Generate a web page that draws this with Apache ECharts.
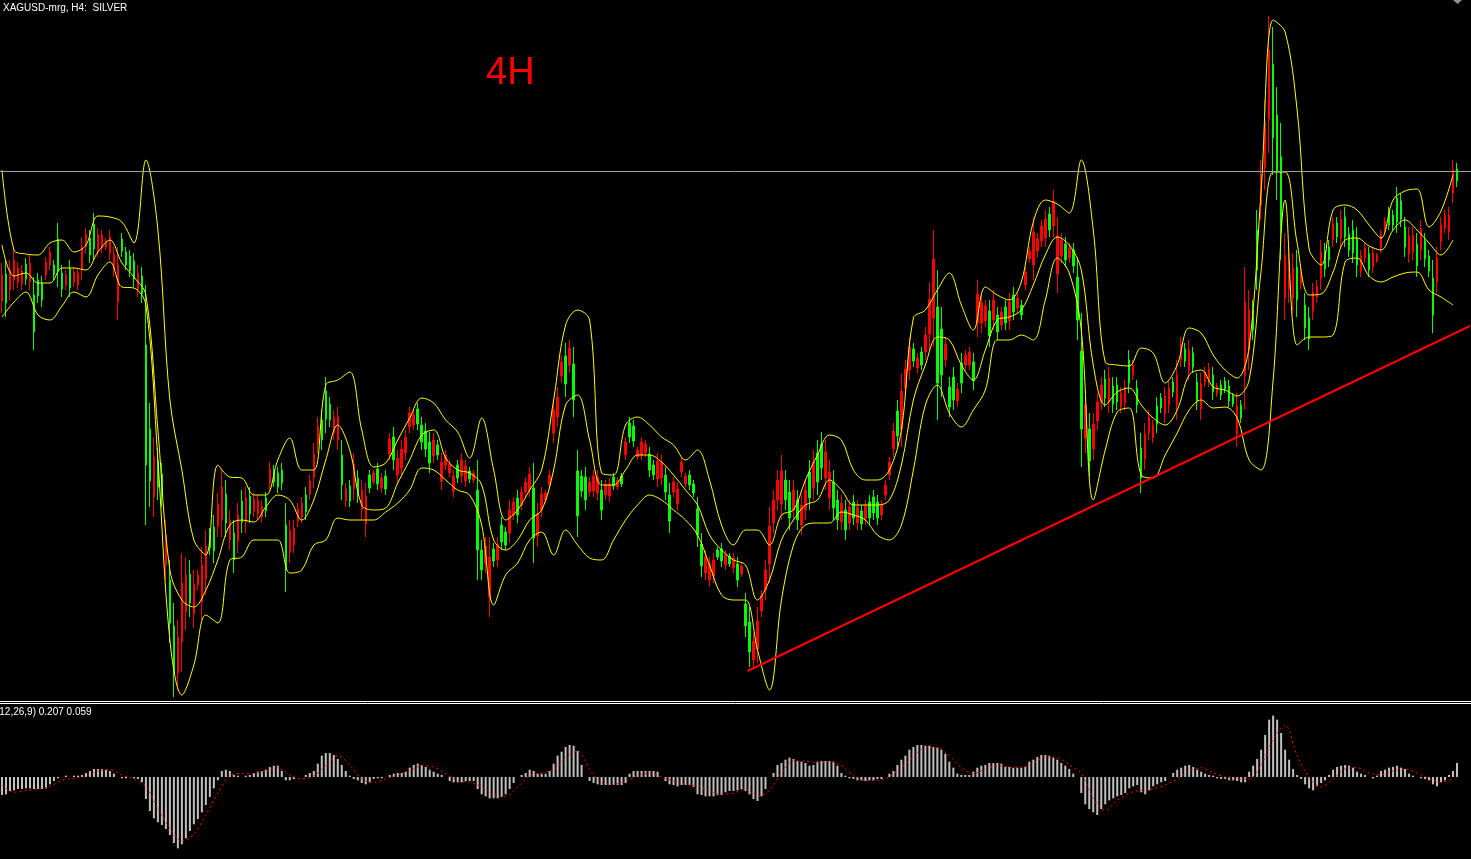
<!DOCTYPE html>
<html><head><meta charset="utf-8">
<style>html,body{margin:0;padding:0;background:#000;overflow:hidden}#c{width:1471px;height:859px}</style>
<script src="https://cdn.jsdelivr.net/npm/echarts/dist/echarts.min.js"></script>
</head><body><div id="c"></div><script>
// XAGUSD H4 bars (price)
const opens = [
27.25,26.97,27.30,27.40,27.32,27.29,27.21,27.37,26.68,27.04,
27.00,27.38,27.48,27.25,27.29,27.11,27.25,27.12,27.28,27.27,
27.53,27.66,27.45,27.51,27.65,27.65,27.59,27.63,27.46,27.35,
27.49,27.35,27.29,27.21,27.27,27.06,25.35,25.19,25.43,25.13,
25.04,24.65,23.77,23.26,23.63,24.17,24.25,23.97,24.16,24.25,
24.35,24.54,24.52,24.49,24.96,25.13,24.77,24.80,24.40,24.85,
24.78,25.02,24.86,25.01,24.99,24.94,24.89,25.31,25.18,25.13,
25.17,24.30,24.69,24.72,24.91,24.97,24.88,25.19,25.46,25.74,
25.60,25.81,25.80,25.83,25.83,25.15,25.11,24.99,25.36,25.05,
25.10,25.04,25.12,25.27,25.16,25.22,25.11,25.61,25.40,25.42,
25.51,25.63,25.87,25.85,25.76,25.58,25.51,25.37,25.60,25.45,
25.38,25.45,25.36,25.24,25.22,25.40,25.34,25.21,25.27,24.50,
24.30,24.54,24.43,24.39,24.56,24.58,24.55,24.90,24.98,24.85,
25.08,25.18,25.26,24.62,24.86,25.06,25.07,25.25,25.90,26.03,
26.38,26.16,26.52,26.00,24.84,25.09,25.00,25.18,25.24,25.23,
24.90,25.15,25.16,25.14,25.20,25.16,25.58,25.63,25.59,25.50,
25.58,25.56,25.30,25.25,25.39,25.38,25.08,24.79,25.18,25.11,
25.38,25.24,25.15,25.07,24.65,24.34,24.43,24.36,24.40,24.43,
24.39,24.45,24.36,24.42,24.20,24.34,23.74,23.48,23.59,23.79,
24.04,24.30,24.74,25.00,25.20,25.29,25.00,24.82,25.10,24.80,
24.95,25.10,25.02,25.38,25.18,25.32,25.48,25.28,24.92,24.80,
24.97,24.70,24.93,24.82,24.93,24.76,24.94,24.82,24.87,24.82,
24.95,25.15,25.38,25.69,25.64,26.09,26.31,26.53,26.39,26.42,
26.35,26.65,27.01,27.41,26.17,26.25,26.56,25.93,26.00,26.11,
26.17,26.45,26.48,26.19,27.06,26.97,26.94,26.64,27.00,26.68,
26.88,26.77,26.98,26.88,27.02,26.85,27.28,27.49,27.68,27.61,
27.74,27.81,27.70,27.99,27.64,27.60,27.40,27.52,27.34,26.80,
25.71,25.95,25.39,25.76,25.98,26.15,26.02,26.22,25.96,25.98,
26.07,26.13,26.17,26.35,25.95,25.22,25.66,25.83,25.75,25.76,
25.92,26.04,26.12,26.08,26.25,26.56,26.39,26.50,26.33,25.99,
26.16,26.28,26.31,26.08,26.14,26.05,26.11,25.99,25.96,25.94,
25.82,26.98,26.90,26.70,27.30,28.25,28.78,29.50,28.62,28.28,
27.74,27.45,27.39,27.32,27.00,27.27,26.72,26.61,27.08,27.14,
27.48,27.31,27.40,27.76,27.63,27.81,27.63,27.50,27.47,27.35,
27.44,27.52,27.30,27.47,27.45,27.65,27.79,27.75,27.75,27.78,
27.81,27.53,27.64,27.65,27.34,27.70,27.41,27.29,26.85,27.42,
27.75,27.85,27.85,28.30,28.19];
const closes = [
26.99,27.26,27.10,27.20,27.18,27.16,27.36,27.18,27.05,27.20,
27.17,27.25,27.35,27.35,27.61,27.27,27.15,27.31,27.18,27.15,
27.30,27.53,27.62,27.76,27.50,27.52,27.53,27.47,27.30,26.98,
27.61,27.48,27.44,27.39,27.11,27.24,26.55,25.71,25.03,25.39,
25.26,24.35,24.20,23.74,23.27,23.58,23.88,24.26,23.86,24.15,
23.98,24.21,24.65,24.73,24.74,24.80,25.06,24.60,24.67,24.59,
24.99,24.78,25.04,24.89,24.86,24.83,25.02,25.17,25.30,25.27,
25.30,24.75,24.48,24.55,24.79,24.83,25.05,25.06,25.23,25.56,
25.80,26.09,25.96,25.67,25.60,25.45,24.99,25.14,25.11,25.22,
24.90,24.76,25.25,25.18,25.31,25.12,25.24,25.46,25.63,25.25,
25.32,25.47,25.73,25.75,25.91,25.75,25.69,25.58,25.44,25.55,
25.19,25.35,25.27,25.09,25.35,25.24,25.19,25.29,25.20,25.10,
24.50,24.36,24.03,24.51,24.40,24.75,24.68,24.67,24.85,25.02,
24.95,25.08,25.10,25.12,24.64,24.90,25.00,25.15,25.67,25.83,
26.24,26.44,26.35,26.36,25.29,25.24,25.23,25.08,25.09,25.07,
25.10,25.05,25.04,25.23,25.13,25.24,25.45,25.77,25.74,25.43,
25.45,25.47,25.46,25.35,25.21,25.22,25.25,25.05,25.08,24.96,
25.28,25.16,25.25,25.16,24.91,24.56,24.27,24.20,24.24,24.50,
24.51,24.35,24.44,24.32,24.36,24.26,23.96,23.78,23.40,23.51,
23.89,24.10,24.36,24.77,25.00,24.96,25.20,25.08,24.90,25.00,
24.75,24.90,25.28,25.12,25.47,25.56,25.22,25.02,25.18,25.00,
24.78,24.90,24.77,24.98,24.77,24.89,24.81,24.98,25.03,24.98,
24.85,25.05,25.25,25.51,25.89,25.71,26.12,26.30,26.51,26.32,
26.48,26.48,26.66,26.82,26.93,26.71,26.40,26.13,26.23,25.99,
26.37,26.35,26.35,26.38,26.77,26.77,26.79,26.89,26.80,26.85,
26.75,26.93,26.79,27.05,26.92,26.95,27.15,27.41,27.35,27.49,
27.59,27.62,27.86,27.74,27.26,27.44,27.56,27.42,27.50,27.23,
26.49,25.62,25.71,25.51,25.79,25.98,26.21,25.98,26.14,26.15,
25.93,25.97,26.40,26.25,26.12,25.52,25.41,25.67,25.62,25.94,
26.02,25.86,25.95,26.18,25.95,26.40,26.51,26.30,26.47,26.18,
25.91,26.18,26.19,26.25,26.06,26.15,26.19,26.14,26.04,25.66,
25.95,26.25,26.50,26.90,27.70,27.95,28.32,28.81,29.36,28.85,
28.43,27.02,27.11,27.02,27.33,27.16,26.95,26.82,26.89,27.03,
27.22,27.49,27.53,27.60,27.77,27.62,27.83,27.66,27.70,27.61,
27.29,27.42,27.46,27.33,27.39,27.52,27.71,27.88,27.85,28.02,
27.99,27.73,27.46,27.48,27.56,27.50,27.59,27.44,27.22,27.18,
27.58,27.72,27.68,28.07,28.31];
const highs = [
27.37,27.40,27.40,27.50,27.38,27.35,27.42,27.45,27.23,27.27,
27.24,27.43,27.53,27.40,27.77,27.35,27.30,27.40,27.33,27.32,
27.63,27.72,27.70,27.87,27.72,27.70,27.62,27.70,27.53,27.53,
27.67,27.53,27.50,27.47,27.35,27.33,27.15,25.97,25.63,25.52,
25.37,24.80,24.40,23.97,23.80,24.47,24.43,24.40,24.30,24.30,
24.53,24.70,24.72,24.85,25.07,25.30,25.20,24.90,24.80,24.97,
25.10,25.13,25.13,25.07,25.05,25.00,25.08,25.38,25.35,25.33,
25.37,24.97,24.80,24.80,24.97,25.03,25.13,25.25,25.57,25.83,
25.90,26.23,26.03,25.90,25.93,25.60,25.17,25.20,25.47,25.30,
25.20,25.17,25.30,25.30,25.37,25.27,25.30,25.67,25.73,25.50,
25.60,25.70,25.93,25.90,25.97,25.83,25.77,25.68,25.67,25.60,
25.47,25.50,25.40,25.30,25.40,25.47,25.40,25.33,25.30,25.40,
24.60,24.63,24.63,24.57,24.63,24.83,24.73,25.00,25.03,25.10,
25.13,25.23,25.33,25.37,24.97,25.13,25.10,25.30,26.00,26.13,
26.45,26.57,26.60,26.53,25.50,25.30,25.33,25.23,25.30,25.30,
25.20,25.20,25.22,25.27,25.23,25.27,25.63,25.83,25.80,25.53,
25.63,25.60,25.53,25.40,25.47,25.45,25.33,25.17,25.23,25.17,
25.43,25.27,25.30,25.20,25.03,24.67,24.50,24.43,24.47,24.53,
24.57,24.50,24.47,24.47,24.43,24.37,24.07,23.93,23.67,23.93,
24.10,24.40,24.93,25.10,25.30,25.45,25.30,25.20,25.20,25.10,
25.05,25.20,25.40,25.50,25.60,25.68,25.60,25.40,25.30,25.10,
25.05,25.00,25.00,25.05,25.00,24.95,25.00,25.05,25.10,25.05,
25.00,25.20,25.43,25.77,26.00,26.27,26.40,26.63,26.57,26.47,
26.53,26.73,27.17,27.70,27.30,26.93,26.63,26.23,26.33,26.17,
26.47,26.50,26.53,26.47,27.20,27.07,27.00,27.00,27.10,26.93,
26.93,27.00,27.07,27.13,27.07,27.00,27.33,27.53,27.83,27.67,
27.80,27.90,27.93,28.10,27.83,27.67,27.63,27.57,27.57,27.43,
26.87,26.10,25.87,25.87,26.07,26.23,26.30,26.33,26.23,26.23,
26.13,26.20,26.50,26.40,26.20,25.67,25.77,25.90,25.80,26.03,
26.07,26.13,26.20,26.23,26.40,26.63,26.57,26.60,26.53,26.27,
26.27,26.33,26.37,26.33,26.17,26.20,26.23,26.20,26.07,26.07,
26.00,27.33,27.10,27.00,27.90,28.40,29.00,29.84,29.73,29.13,
28.77,27.67,27.53,27.47,27.50,27.33,27.07,26.93,27.17,27.20,
27.60,27.57,27.60,27.83,27.83,27.90,27.93,27.73,27.80,27.73,
27.50,27.57,27.53,27.53,27.47,27.70,27.83,27.93,27.90,28.13,
28.07,27.83,27.73,27.73,27.67,27.80,27.67,27.50,27.40,27.53,
27.83,27.90,27.93,28.40,28.37];
const lows = [
26.87,26.83,27.00,27.10,27.12,27.10,27.15,27.10,26.50,26.97,
26.93,27.20,27.30,27.20,27.13,27.03,27.10,27.03,27.13,27.10,
27.20,27.47,27.37,27.40,27.43,27.47,27.50,27.40,27.23,26.80,
27.43,27.30,27.23,27.13,27.03,26.97,24.75,24.93,24.83,25.00,
24.93,24.20,23.57,23.03,23.10,23.28,23.70,23.83,23.72,24.10,
23.80,24.05,24.45,24.37,24.63,24.63,24.63,24.50,24.27,24.47,
24.67,24.67,24.77,24.83,24.80,24.77,24.83,25.10,25.13,25.07,
25.10,24.08,24.37,24.47,24.73,24.77,24.80,25.00,25.12,25.47,
25.50,25.67,25.73,25.60,25.50,25.00,24.93,24.93,25.00,24.97,
24.80,24.63,25.07,25.15,25.10,25.07,25.05,25.40,25.30,25.17,
25.23,25.40,25.67,25.70,25.70,25.50,25.43,25.27,25.37,25.40,
25.10,25.30,25.23,25.03,25.17,25.17,25.13,25.17,25.17,24.20,
24.20,24.27,23.83,24.33,24.33,24.50,24.50,24.57,24.80,24.77,
24.90,25.03,25.03,24.37,24.53,24.83,24.97,25.10,25.57,25.73,
26.17,26.03,26.27,25.83,24.63,25.03,24.90,25.03,25.03,25.00,
24.80,25.00,24.98,25.10,25.10,25.13,25.40,25.57,25.53,25.40,
25.40,25.43,25.23,25.20,25.13,25.15,25.00,24.67,25.03,24.90,
25.23,25.13,25.10,25.03,24.53,24.23,24.20,24.13,24.17,24.40,
24.33,24.30,24.33,24.27,24.13,24.23,23.63,23.33,23.32,23.37,
23.83,24.00,24.17,24.67,24.90,24.80,24.90,24.70,24.80,24.70,
24.65,24.80,24.90,25.00,25.05,25.20,25.10,24.90,24.80,24.70,
24.70,24.60,24.70,24.75,24.70,24.70,24.75,24.75,24.80,24.75,
24.80,25.00,25.20,25.43,25.53,25.53,26.03,26.20,26.33,26.27,
26.30,26.40,26.50,26.53,25.80,26.03,26.33,25.83,25.90,25.93,
26.07,26.30,26.30,26.10,26.63,26.67,26.73,26.53,26.70,26.60,
26.70,26.70,26.70,26.80,26.87,26.80,27.10,27.37,27.20,27.43,
27.53,27.53,27.63,27.63,27.07,27.37,27.33,27.37,27.27,26.60,
25.33,25.47,25.23,25.40,25.70,25.90,25.93,25.87,25.87,25.90,
25.87,25.90,26.07,26.20,25.87,25.07,25.30,25.60,25.57,25.67,
25.87,25.77,25.87,26.03,25.80,26.33,26.33,26.20,26.27,25.90,
25.80,26.13,26.13,26.00,26.03,26.00,26.07,25.93,25.93,25.53,
25.77,25.90,26.30,26.60,27.10,27.80,28.10,28.47,28.25,28.00,
27.40,26.80,26.97,26.87,26.83,27.10,26.60,26.50,26.80,26.97,
27.10,27.23,27.33,27.53,27.57,27.53,27.53,27.43,27.37,27.23,
27.23,27.37,27.23,27.27,27.37,27.47,27.67,27.70,27.70,27.67,
27.73,27.43,27.37,27.40,27.23,27.40,27.33,27.23,26.67,27.07,
27.50,27.67,27.60,27.97,28.13];
// Bands (yellow), one reading every BAND_STEP bars
const BAND_STEP = 3;
const bandUpper = [
28.30,27.50,27.46,27.45,27.57,27.60,27.48,27.55,27.84,27.83,
27.78,27.57,28.40,27.70,26.00,25.30,24.60,24.45,25.35,25.23,
25.22,25.05,25.05,25.40,25.62,25.30,25.30,26.15,26.20,26.28,
25.70,25.33,25.37,25.60,25.82,26.02,25.97,25.80,25.68,25.42,
25.82,25.30,24.80,24.90,25.10,25.30,26.00,26.75,26.90,26.80,
25.27,25.25,25.75,25.83,25.75,25.63,25.55,25.40,25.50,25.20,
24.75,24.55,24.70,24.70,24.55,24.85,24.90,25.20,25.45,25.65,
25.60,25.30,25.20,25.20,25.30,25.70,26.82,26.90,27.10,27.27,
26.95,26.70,27.13,27.05,27.00,27.18,27.78,28.00,27.96,27.87,
28.40,27.70,26.38,26.35,26.34,26.52,26.47,26.17,26.35,26.72,
26.67,26.45,26.30,26.22,26.53,28.10,29.80,29.68,28.90,27.51,
27.35,27.90,27.95,27.90,27.75,27.62,28.00,28.09,28.11,27.73,
27.89,28.25];
const bandMiddle = [
27.55,27.24,27.27,27.17,27.17,27.32,27.32,27.30,27.48,27.60,
27.37,27.23,27.05,25.70,24.30,24.00,23.93,24.10,24.40,24.75,
24.80,24.78,24.93,25.05,25.00,24.80,25.00,25.40,25.75,25.50,
24.95,24.90,24.92,25.17,25.40,25.65,25.70,25.42,25.30,25.27,
25.15,24.60,24.50,24.60,24.80,24.90,25.30,25.95,26.05,25.60,
25.15,25.15,25.30,25.45,25.45,25.38,25.25,25.10,24.95,24.65,
24.50,24.40,24.35,24.00,24.20,24.60,24.80,24.95,25.00,25.20,
25.10,24.95,24.95,24.95,25.00,25.35,26.00,26.35,26.63,26.60,
26.35,26.20,26.50,26.80,26.83,26.90,27.15,27.45,27.63,27.55,
27.30,26.35,25.95,26.08,26.12,25.95,25.82,25.75,25.90,26.25,
26.30,26.13,26.10,26.04,26.20,27.30,28.28,28.28,27.57,27.05,
27.06,27.28,27.60,27.62,27.54,27.50,27.70,27.80,27.70,27.57,
27.45,27.60];
const bandLower = [
26.83,26.98,27.08,26.85,26.80,26.94,27.08,27.03,27.25,27.38,
27.13,27.12,26.95,25.40,23.60,23.05,23.35,23.85,23.77,24.40,
24.43,24.60,24.60,24.60,24.27,24.30,24.55,24.60,24.82,24.80,
24.80,24.80,24.88,24.97,25.10,25.32,25.30,25.20,25.10,25.05,
24.75,23.95,24.25,24.37,24.60,24.68,24.45,24.70,24.55,24.42,
24.40,24.60,24.80,24.95,25.05,25.00,24.90,24.80,24.65,24.35,
24.05,24.00,24.00,23.50,23.10,24.00,24.55,24.75,24.77,24.77,
24.88,24.85,24.80,24.65,24.60,24.75,25.30,25.95,26.15,25.87,
25.73,25.90,26.10,26.60,26.60,26.65,26.60,27.00,27.42,27.27,
26.70,25.00,25.50,25.88,25.92,25.25,25.22,25.45,25.67,25.90,
26.00,25.92,25.93,25.82,25.40,25.30,26.20,28.00,26.55,26.63,
26.63,26.65,27.38,27.42,27.24,27.18,27.23,27.27,27.28,27.10,
27.03,26.95];
// MACD(12,26,9) main (histogram) per bar, and signal every SIGNAL_STEP bars
const macdMain = [
-0.27,-0.26,-0.21,-0.20,-0.18,-0.18,-0.17,-0.17,-0.18,-0.18,
-0.18,-0.17,-0.11,-0.06,-0.02,0.00,0.02,0.00,0.02,0.02,
0.03,0.06,0.09,0.12,0.12,0.12,0.11,0.09,0.05,0.00,
-0.02,-0.02,0.00,-0.02,-0.03,-0.08,-0.33,-0.51,-0.62,-0.68,
-0.72,-0.78,-0.87,-0.99,-1.07,-1.01,-0.92,-0.81,-0.71,-0.63,
-0.53,-0.42,-0.30,-0.17,-0.05,0.09,0.11,0.09,0.03,0.02,
0.00,0.02,0.03,0.06,0.08,0.09,0.11,0.15,0.17,0.17,
0.09,-0.05,-0.05,-0.03,0.00,0.00,0.03,0.06,0.09,0.20,
0.32,0.36,0.36,0.33,0.27,0.18,0.09,0.02,-0.03,-0.05,
-0.09,-0.11,-0.08,-0.03,-0.02,-0.02,0.00,0.03,0.05,0.06,
0.06,0.08,0.14,0.18,0.20,0.18,0.15,0.11,0.08,0.05,
0.03,0.00,-0.06,-0.08,-0.08,-0.08,-0.06,-0.06,-0.06,-0.18,
-0.26,-0.29,-0.32,-0.32,-0.32,-0.30,-0.26,-0.18,-0.09,0.00,
0.03,0.06,0.11,0.09,0.05,0.05,0.05,0.09,0.20,0.32,
0.38,0.45,0.48,0.47,0.39,0.18,0.00,-0.06,-0.09,-0.11,
-0.12,-0.12,-0.12,-0.12,-0.12,-0.12,-0.09,0.05,0.09,0.09,
0.09,0.09,0.09,0.09,0.08,0.00,-0.06,-0.11,-0.12,-0.14,
-0.12,-0.12,-0.12,-0.15,-0.26,-0.27,-0.29,-0.29,-0.29,-0.27,
-0.27,-0.23,-0.21,-0.21,-0.20,-0.18,-0.21,-0.26,-0.33,-0.36,
-0.29,-0.18,0.00,0.06,0.18,0.21,0.26,0.29,0.27,0.24,
0.23,0.21,0.17,0.18,0.23,0.24,0.24,0.24,0.23,0.17,
0.06,0.02,-0.02,-0.03,-0.05,-0.05,-0.06,-0.05,-0.05,-0.03,
-0.03,0.00,0.05,0.09,0.18,0.26,0.32,0.41,0.45,0.48,
0.48,0.47,0.47,0.45,0.44,0.41,0.35,0.23,0.14,0.05,
0.03,0.03,0.03,0.08,0.14,0.17,0.18,0.21,0.21,0.21,
0.20,0.15,0.15,0.14,0.14,0.14,0.15,0.23,0.26,0.30,
0.33,0.33,0.32,0.29,0.26,0.21,0.17,0.12,0.05,0.00,
-0.24,-0.41,-0.48,-0.53,-0.57,-0.48,-0.41,-0.35,-0.32,-0.29,
-0.27,-0.24,-0.17,-0.14,-0.12,-0.23,-0.26,-0.20,-0.14,-0.11,
-0.08,-0.06,0.00,0.06,0.11,0.14,0.17,0.18,0.15,0.11,
0.08,0.05,0.03,0.02,-0.02,-0.03,-0.03,-0.05,-0.05,-0.06,
-0.08,-0.08,0.08,0.17,0.27,0.41,0.63,0.86,0.92,0.86,
0.66,0.41,0.26,0.12,0.03,-0.03,-0.11,-0.17,-0.20,-0.14,
-0.09,-0.05,0.03,0.11,0.15,0.17,0.18,0.17,0.14,0.08,
0.05,0.03,0.00,-0.02,0.02,0.09,0.11,0.14,0.15,0.17,
0.14,0.12,0.05,0.02,0.00,-0.02,-0.03,-0.05,-0.11,-0.14,
-0.08,-0.05,0.03,0.09,0.21];
const SIGNAL_STEP = 3;
const macdSignal = [
-0.12,-0.23,-0.20,-0.18,-0.14,-0.05,-0.02,0.02,0.09,0.11,
0.03,-0.03,-0.14,-0.47,-0.77,-0.96,-0.86,-0.57,-0.24,0.02,
0.05,0.05,0.09,0.14,0.03,-0.03,0.02,0.17,0.32,0.18,
-0.03,-0.08,-0.03,0.03,0.09,0.17,0.15,0.05,-0.05,-0.08,
-0.14,-0.27,-0.29,-0.15,0.02,0.06,0.11,0.29,0.39,0.11,
-0.09,-0.11,-0.06,0.02,0.06,0.00,-0.06,-0.11,-0.14,-0.21,
-0.26,-0.24,-0.18,-0.29,-0.20,0.06,0.24,0.24,0.21,0.23,
0.17,0.02,-0.05,-0.05,0.00,0.14,0.30,0.44,0.44,0.32,
0.14,0.05,0.12,0.17,0.15,0.15,0.21,0.30,0.29,0.18,
0.05,-0.32,-0.50,-0.35,-0.24,-0.20,-0.18,-0.12,-0.03,0.09,
0.14,0.06,0.00,-0.03,-0.03,0.18,0.57,0.78,0.32,0.00,
-0.15,-0.03,0.12,0.14,0.06,0.03,0.09,0.12,0.06,-0.02,
-0.08,-0.02];
const levelPrice = 28.29;            // horizontal line
const trendFrom = [186.5, 23.29];    // trend line anchors: [bar, price]
const trendTo = [367.25, 26.74];
const SLOTS = 368;                    // bar slots on the time axis (last ones empty)
const titleText = 'XAGUSD-mrg, H4:  SILVER';
const tagText = '4H';
const macdText = 'MACD(12,26,9) 0.207 0.059';

const categories = Array.from({length: SLOTS}, (_, i) => String(i));
const candles = opens.map((o, i) => [o, closes[i], lows[i], highs[i]]);
const stepped = (arr, step) => arr.map((v, k) => [k * step, v]);
const bandSeries = arr => ({
  type: 'line', xAxisIndex: 1, yAxisIndex: 0, data: stepped(arr, BAND_STEP),
  smooth: 0.35, symbol: 'none', silent: true,
  lineStyle: {color: '#ffff00', width: 1}
});
const smallFont = '10px "Liberation Sans", Arial, sans-serif';

const chart = echarts.init(document.getElementById('c'), null, {renderer: 'canvas'});
chart.setOption({
  backgroundColor: '#000000',
  animation: false,
  grid: [
    {left: 0, top: 0, width: 1472, height: 700},
    {left: 0, top: 704, width: 1472, height: 155}
  ],
  xAxis: [
    {type: 'category', gridIndex: 0, data: categories, show: false},
    {type: 'value', gridIndex: 0, min: -0.5, max: SLOTS - 0.5, show: false},
    {type: 'category', gridIndex: 1, data: categories, show: false},
    {type: 'value', gridIndex: 1, min: -0.5, max: SLOTS - 0.5, show: false}
  ],
  yAxis: [
    {type: 'value', gridIndex: 0, min: 23, max: 30, show: false, splitLine: {show: false}},
    {type: 'value', gridIndex: 1, min: -1.23, max: 1.095, show: false, splitLine: {show: false}}
  ],
  series: [
    {
      type: 'candlestick', xAxisIndex: 0, yAxisIndex: 0, data: candles,
      barWidth: 2,
      itemStyle: {color: '#00ff00', color0: '#ff0000', borderColor: '#00ff00', borderColor0: '#ff0000', borderWidth: 1},
      markLine: {
        silent: true, symbol: 'none', label: {show: false},
        lineStyle: {color: '#a0a0a0', width: 1, type: 'solid'},
        data: [{yAxis: levelPrice}]
      }
    },
    bandSeries(bandUpper),
    bandSeries(bandMiddle),
    bandSeries(bandLower),
    {
      type: 'line', xAxisIndex: 1, yAxisIndex: 0, data: [trendFrom, trendTo],
      symbol: 'none', silent: true, lineStyle: {color: '#ff0000', width: 2}
    },
    {
      type: 'bar', xAxisIndex: 2, yAxisIndex: 1, data: macdMain, barWidth: 2,
      silent: true, itemStyle: {color: '#c0c0c0'}
    },
    {
      type: 'line', xAxisIndex: 3, yAxisIndex: 1, data: stepped(macdSignal, SIGNAL_STEP),
      smooth: 0.3, symbol: 'none', silent: true,
      lineStyle: {color: '#ff0000', width: 1, type: [2, 3]}
    }
  ],
  graphic: [
    {type: 'line', shape: {x1: 0, y1: 701.5, x2: 1471, y2: 701.5}, style: {stroke: '#ffffff', lineWidth: 1}, silent: true},
    {type: 'line', shape: {x1: 0, y1: 703.5, x2: 1471, y2: 703.5}, style: {stroke: '#ffffff', lineWidth: 1}, silent: true},
    {type: 'text', x: 3, y: 3, style: {text: titleText, fill: '#ffffff', font: smallFont, verticalAlign: 'top'}},
    {type: 'text', x: 486, y: 55, style: {text: tagText, fill: '#ff0000', font: '38px "Liberation Sans", Arial, sans-serif', verticalAlign: 'top'}},
    {type: 'text', x: -33.5, y: 707, style: {text: macdText, fill: '#ffffff', font: smallFont, verticalAlign: 'top'}},
    {type: 'polygon', shape: {points: [[1453, 0], [1462, 0], [1457.5, 4]]}, style: {fill: '#8a93a6'}, silent: true}
  ]
});
</script></body></html>
